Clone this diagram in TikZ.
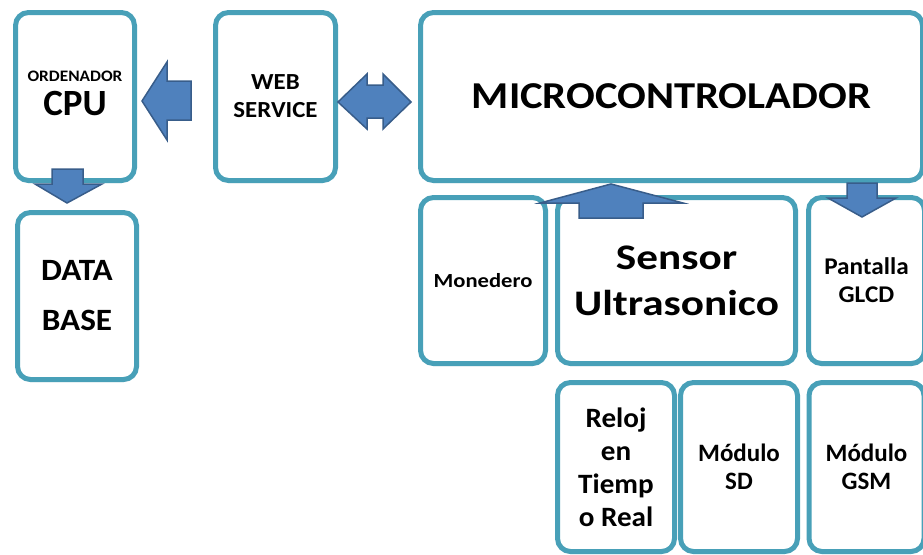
\documentclass[tikz,border=0pt]{standalone}
\usepackage{fontspec}
\setmainfont{Carlito}
\usetikzlibrary{shadows}
\definecolor{boxline}{RGB}{72,160,184}
\definecolor{arrowfill}{RGB}{79,129,189}
\definecolor{arrowline}{RGB}{56,93,138}

% bold Carlito at a given size, baseline skip and horizontal stretch
\newcommand{\boxfont}[3]{\bfseries\fontsize{#1}{#2}\selectfont\addfontfeatures{FakeStretch=#3}}

\begin{document}
\begin{tikzpicture}[x=1pt,y=-1pt,
  box/.style={draw=boxline, line width=5pt, fill=white, rounded corners=13pt,
    align=center, inner sep=0pt, text=black,
    drop shadow={shadow xshift=0pt, shadow yshift=-2.5pt, opacity=0.22}},
  lbl/.style={inner sep=0pt, text=black, align=center},
  blockarrow/.style={fill=arrowfill, draw=arrowline, line width=1.5pt, line join=miter}]
\useasboundingbox (0,0) rectangle (923,554);

% top row
\node[box, minimum width=119pt, minimum height=168pt] (cpu) at (75,96.5) {};
\node[lbl, anchor=base, font=\boxfont{16}{18}{1.08}] (cpuhead) at (75,81) {ORDENADOR};
\node[lbl, anchor=base, font=\boxfont{37}{40}{1.0}] (cpuname) at (75,115) {CPU};

\node[box, minimum width=120pt, minimum height=168pt,
  font=\boxfont{23}{28}{1.08}] (web) at (275.5,96.5) {WEB\\SERVICE};

\node[box, minimum width=502pt, minimum height=168pt,
  font=\boxfont{38}{44}{1.12}] (micro) at (671.5,96.5) {MICROCONTROLADOR};

% database
\node[box, minimum width=119pt, minimum height=167pt,
  font=\boxfont{31}{50}{1.07}] (db) at (77,296) {DATA\\BASE};

% middle row
\node[box, minimum width=125pt, minimum height=166pt,
  font=\boxfont{20}{24}{1.13}] (coin) at (483,280.5) {Monedero};
\node[box, minimum width=238pt, minimum height=166pt,
  font=\boxfont{36}{46}{1.2}] (sensor) at (676.5,280.5) {Sensor\\Ultrasonico};
\node[box, minimum width=116pt, minimum height=166pt,
  font=\boxfont{24}{28}{1.05}] (glcd) at (866.5,280.5) {Pantalla\\GLCD};

% bottom row
\node[box, minimum width=117pt, minimum height=169pt,
  font=\boxfont{28}{33}{1.04}] (rtc) at (616,467) {Reloj\\en\\Tiemp\\o Real};
\node[box, minimum width=117pt, minimum height=169pt,
  font=\boxfont{25}{28}{1.0}] (sd) at (739,467) {Módulo\\SD};
\node[box, minimum width=115pt, minimum height=169pt,
  font=\boxfont{25}{28}{1.0}] (gsm) at (866.5,467) {Módulo\\GSM};

% block arrows
\draw[blockarrow] (142,101) -- (167,62) -- (167,81) -- (191,81) -- (191,120)
  -- (167,120) -- (167,140) -- cycle;
\draw[blockarrow] (338,102) -- (367,74) -- (367,85) -- (383,85) -- (383,74)
  -- (411,102) -- (383,129) -- (383,118) -- (367,118) -- (367,129) -- cycle;
\draw[blockarrow] (52,169) -- (83,169) -- (83,184) -- (102,184) -- (67,203)
  -- (35,184) -- (52,184) -- cycle;
\draw[blockarrow] (611,184) -- (683,203) -- (643,203) -- (643,218) -- (579,218)
  -- (579,203) -- (540,203) -- cycle;
\draw[blockarrow] (847,183) -- (877,183) -- (877,198) -- (896,198) -- (862,217)
  -- (828,198) -- (847,198) -- cycle;
\end{tikzpicture}
\end{document}
